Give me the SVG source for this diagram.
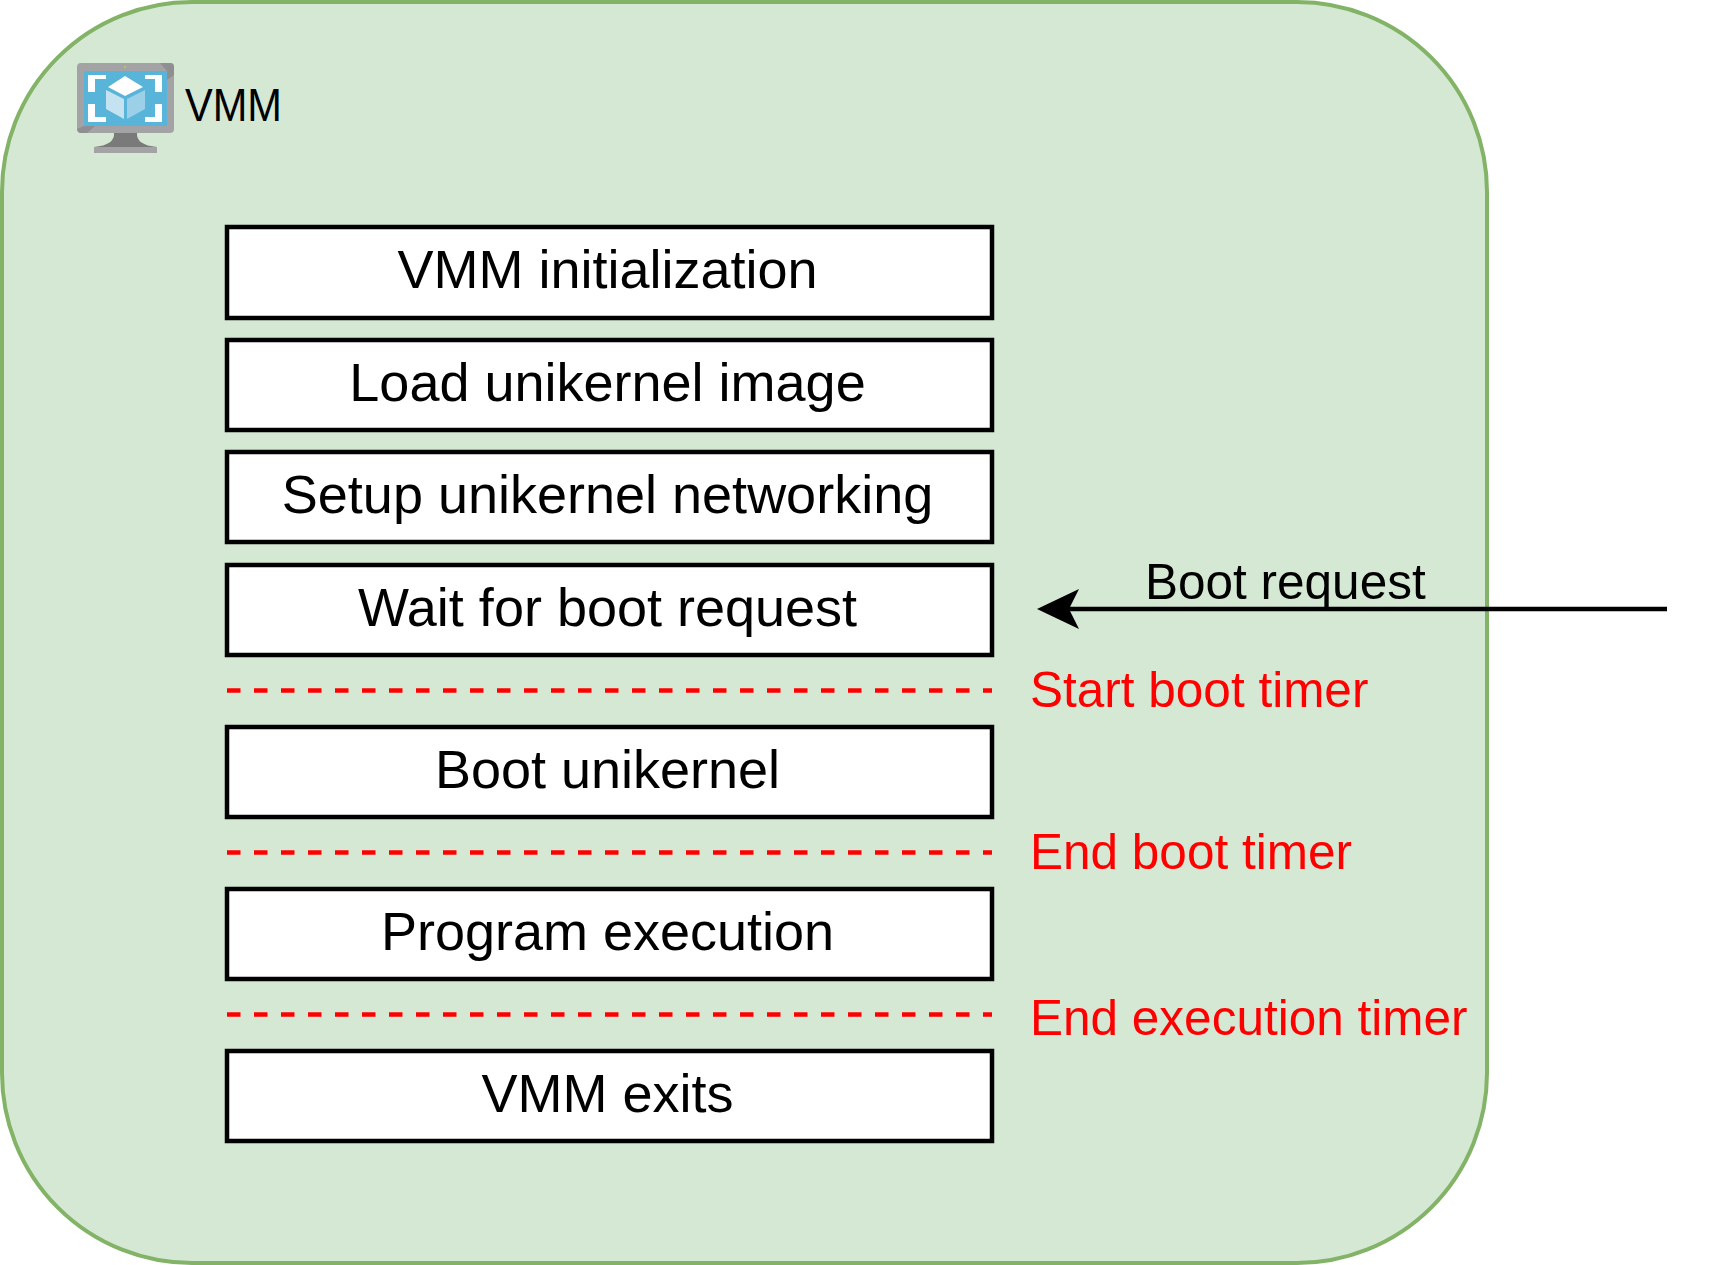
<svg xmlns="http://www.w3.org/2000/svg" width="1710" height="1265" viewBox="0 0 1710 1265">
<style>
text{font-family:"Liberation Sans",Arial,sans-serif}
.b rect{fill:#fff;stroke:#000;stroke-width:4.5}
.b text{font-size:54px;text-anchor:middle;fill:#000}
.r{font-size:49.5px;fill:#f00}
.d{stroke:#f00;stroke-width:4.5;stroke-dasharray:13.5 13.5;fill:none}
</style>
<rect id="vmm-bg" x="2" y="2" width="1485" height="1261" rx="190" ry="190" fill="#d5e8d4" stroke="#82b366" stroke-width="4"/>
<g id="icon">
<path d="M81 63H170Q174 63 174 67V129Q174 133 170 133H81Q77 133 77 129V67Q77 63 81 63Z" fill="#a3a3a6"/>
<path d="M160 63H170Q174 63 174 67V75L167 80V71Z" fill="#8f8f92"/>
<path d="M77 129L84 126H95L87 133H81Q78 133 77 129Z" fill="#8f8f92"/>
<rect x="84" y="71" width="83" height="55" fill="#59b4d9"/>
<circle cx="125" cy="67" r="1" fill="#b8d432"/>
<path d="M114 133H137Q136 145 157 147H94Q115 145 114 133Z" fill="#7a7a7a"/>
<rect x="94" y="147" width="63" height="6" fill="#a3a3a6"/>
<path d="M88 75H106V79H95V92H88ZM162 75H145V79H155V92H162ZM88 104H95V117H106V122H88ZM162 104H155V117H145V122H162Z" fill="#fff"/>
<path d="M125 76L143 87L125 96L108 87Z" fill="#fff"/>
<path d="M106 90L124 99V119L106 109Z" fill="#c4e2f0"/>
<path d="M127 99L145 90V109L127 119Z" fill="#9cd0e8"/>
</g>
<text id="icon-label" x="185" y="121" font-size="47" textLength="97" lengthAdjust="spacingAndGlyphs">VMM</text>
<g id="n1" class="b"><rect x="227" y="227" width="765" height="91"/><text x="607.5" y="288">VMM initialization</text></g>
<g id="n2" class="b"><rect x="227" y="340" width="765" height="90"/><text x="607.5" y="401">Load unikernel image</text></g>
<g id="n3" class="b"><rect x="227" y="452" width="765" height="90"/><text x="607.5" y="513">Setup unikernel networking</text></g>
<g id="n4" class="b"><rect x="227" y="565" width="765" height="90"/><text x="607.5" y="626">Wait for boot request</text></g>
<g id="n5" class="b"><rect x="227" y="727" width="765" height="90"/><text x="607.5" y="788">Boot unikernel</text></g>
<g id="n6" class="b"><rect x="227" y="889" width="765" height="90"/><text x="607.5" y="950">Program execution</text></g>
<g id="n7" class="b"><rect x="227" y="1051" width="765" height="90"/><text x="607.5" y="1112">VMM exits</text></g>
<g id="connectors">
<path class="d" d="M227 690.5H992"/>
<path class="d" d="M227 852.5H992"/>
<path class="d" d="M227 1014.5H992"/>
<path d="M1667 609H1066" stroke="#000" stroke-width="4.5" fill="none"/>
<path d="M1037 609L1079 589L1069 609L1079 629Z" fill="#000"/>
</g>
<text id="l-boot" x="1145" y="599" font-size="49.5">Boot request</text>
<text id="l-start" class="r" x="1030" y="707">Start boot timer</text>
<text id="l-end" class="r" x="1030" y="869">End boot timer</text>
<text id="l-exec" class="r" x="1030" y="1035">End execution timer</text>
</svg>
